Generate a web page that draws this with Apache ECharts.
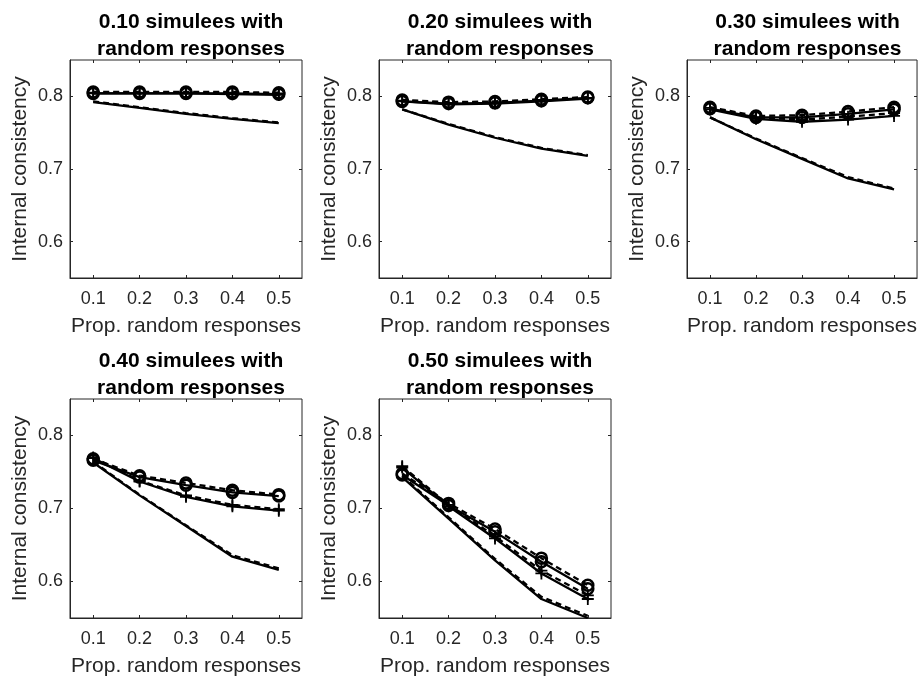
<!DOCTYPE html>
<html>
<head>
<meta charset="utf-8">
<script src="https://cdn.jsdelivr.net/npm/echarts@6/dist/echarts.min.js"></script>
<style>
  html, body { margin: 0; padding: 0; background: #fff; }
  #chart { width: 919px; height: 682px; }
</style>
</head>
<body>
<div id="chart"></div>
<script>
// Proportion of random responses (x values shared by every panel)
const propRandom = [0.1, 0.2, 0.3, 0.4, 0.5];
const xTickValues = [0.1, 0.2, 0.3, 0.4, 0.5];
const yTickValues = [0.6, 0.7, 0.8];

const panelTitles = [
  '0.10 simulees with\nrandom responses',
  '0.20 simulees with\nrandom responses',
  '0.30 simulees with\nrandom responses',
  '0.40 simulees with\nrandom responses',
  '0.50 simulees with\nrandom responses'
];

// Internal consistency, one row per panel
const circleSolid = [
  [0.804, 0.804, 0.804, 0.804, 0.803],
  [0.793, 0.790, 0.791, 0.794, 0.798],
  [0.783, 0.771, 0.771, 0.776, 0.782],
  [0.766, 0.743, 0.732, 0.722, 0.717],
  [0.746, 0.704, 0.668, 0.627, 0.590]
];
const circleDashed = [
  [0.806, 0.806, 0.806, 0.806, 0.805],
  [0.795, 0.792, 0.793, 0.796, 0.799],
  [0.785, 0.773, 0.774, 0.779, 0.785],
  [0.768, 0.745, 0.735, 0.725, 0.719],
  [0.748, 0.707, 0.672, 0.632, 0.595]
];
const plusSolid = [
  [0.804, 0.804, 0.804, 0.803, 0.802],
  [0.793, 0.789, 0.790, 0.793, 0.797],
  [0.782, 0.769, 0.765, 0.768, 0.773],
  [0.769, 0.737, 0.716, 0.703, 0.697],
  [0.756, 0.703, 0.659, 0.611, 0.576]
];
const plusDashed = [
  [0.805, 0.805, 0.805, 0.805, 0.804],
  [0.794, 0.791, 0.792, 0.795, 0.798],
  [0.784, 0.771, 0.768, 0.772, 0.777],
  [0.770, 0.738, 0.718, 0.705, 0.699],
  [0.758, 0.705, 0.662, 0.615, 0.581]
];
const plainSolid = [
  [0.792, 0.784, 0.776, 0.769, 0.763],
  [0.782, 0.761, 0.743, 0.728, 0.718],
  [0.771, 0.741, 0.714, 0.687, 0.672],
  [0.763, 0.718, 0.676, 0.634, 0.616],
  [0.743, 0.686, 0.629, 0.576, 0.550]
];
const plainDashed = [
  [0.793, 0.785, 0.777, 0.770, 0.764],
  [0.782, 0.762, 0.744, 0.729, 0.719],
  [0.771, 0.742, 0.715, 0.689, 0.673],
  [0.764, 0.719, 0.677, 0.636, 0.618],
  [0.745, 0.688, 0.631, 0.579, 0.553]
];

const FONT = 'Liberation Sans, Arial, Helvetica, sans-serif';
const INK = '#262626';

// Panel boxes (pixels)
const boxes = [
  { left: 70,  top: 60,  width: 232, height: 218 },
  { left: 379, top: 60,  width: 232, height: 218 },
  { left: 687, top: 60,  width: 231, height: 218 },
  { left: 70,  top: 399, width: 232, height: 219 },
  { left: 379, top: 399, width: 232, height: 219 }
];

const PLUS = 'path://M8.5,0h3v8.5h8.5v3h-8.5v8.5h-3v-8.5h-8.5v-3h8.5z';

const grid = [], xAxis = [], yAxis = [], series = [], title = [];

boxes.forEach((b, i) => {
  grid.push({
    left: b.left, top: b.top, width: b.width, height: b.height,
    show: true, borderColor: INK, borderWidth: 1, backgroundColor: '#fff'
  });
  title.push({
    text: panelTitles[i],
    left: b.left + b.width / 2,
    top: b.top - 56,
    textAlign: 'center',
    textStyle: { fontFamily: FONT, fontWeight: 'bold', fontSize: 21, lineHeight: 27, color: '#000' }
  });

  const tickStyle = { show: true, inside: true, length: 3, lineStyle: { color: INK, width: 1 } };

  // bottom x axis with labels
  xAxis.push({
    gridIndex: i, type: 'value', min: 0.05, max: 0.55, position: 'bottom',
    name: 'Prop. random responses', nameLocation: 'middle', nameGap: 38,
    nameTextStyle: { fontFamily: FONT, fontSize: 21, color: INK },
    axisLine: { show: true, lineStyle: { color: INK } },
    axisTick: Object.assign({ customValues: xTickValues }, tickStyle),
    axisLabel: {
      customValues: xTickValues, margin: 12,
      fontFamily: FONT, fontSize: 18, color: INK,
      formatter: v => v.toFixed(1)
    },
    splitLine: { show: false }
  });
  // top mirror axis (ticks only)
  xAxis.push({
    gridIndex: i, type: 'value', min: 0.05, max: 0.55, position: 'top',
    axisLine: { show: false },
    axisTick: Object.assign({ customValues: xTickValues }, tickStyle),
    axisLabel: { show: false },
    splitLine: { show: false }
  });
  // left y axis with labels
  yAxis.push({
    gridIndex: i, type: 'value', min: 0.55, max: 0.85, position: 'left',
    name: 'Internal consistency', nameLocation: 'middle', nameGap: 39,
    nameTextStyle: { fontFamily: FONT, fontSize: 21, color: INK },
    axisLine: { show: true, lineStyle: { color: INK } },
    axisTick: Object.assign({ customValues: yTickValues }, tickStyle),
    axisLabel: {
      customValues: yTickValues, margin: 7,
      fontFamily: FONT, fontSize: 18, color: INK,
      formatter: v => v.toFixed(1)
    },
    splitLine: { show: false }
  });
  // right mirror axis (ticks only)
  yAxis.push({
    gridIndex: i, type: 'value', min: 0.55, max: 0.85, position: 'right',
    axisLine: { show: false },
    axisTick: Object.assign({ customValues: yTickValues }, tickStyle),
    axisLabel: { show: false },
    splitLine: { show: false }
  });

  const xi = i * 2, yi = i * 2;
  const pairs = arr => propRandom.map((x, k) => [x, arr[i][k]]);
  const mk = (arr, dashed, symbol) => ({
    type: 'line',
    xAxisIndex: xi, yAxisIndex: yi,
    data: pairs(arr),
    silent: true,
    animation: false,
    symbol: symbol || 'none',
    symbolSize: symbol === 'circle' ? 11 : 12,
    showSymbol: !!symbol,
    lineStyle: { color: '#000', width: 2.3, type: dashed ? [6, 4] : 'solid' },
    itemStyle: symbol === 'circle'
      ? { color: 'rgba(0,0,0,0)', borderColor: '#000', borderWidth: 2.5 }
      : { color: '#000', borderWidth: 0 }
  });
  series.push(mk(plainSolid, false));
  series.push(mk(plainDashed, true));
  series.push(mk(plusSolid, false, PLUS));
  series.push(mk(plusDashed, true, PLUS));
  series.push(mk(circleSolid, false, 'circle'));
  series.push(mk(circleDashed, true, 'circle'));
});

const chart = echarts.init(document.getElementById('chart'), null, { renderer: 'canvas' });
chart.setOption({
  backgroundColor: '#fff',
  animation: false,
  title, grid, xAxis, yAxis, series
});
</script>
</body>
</html>
